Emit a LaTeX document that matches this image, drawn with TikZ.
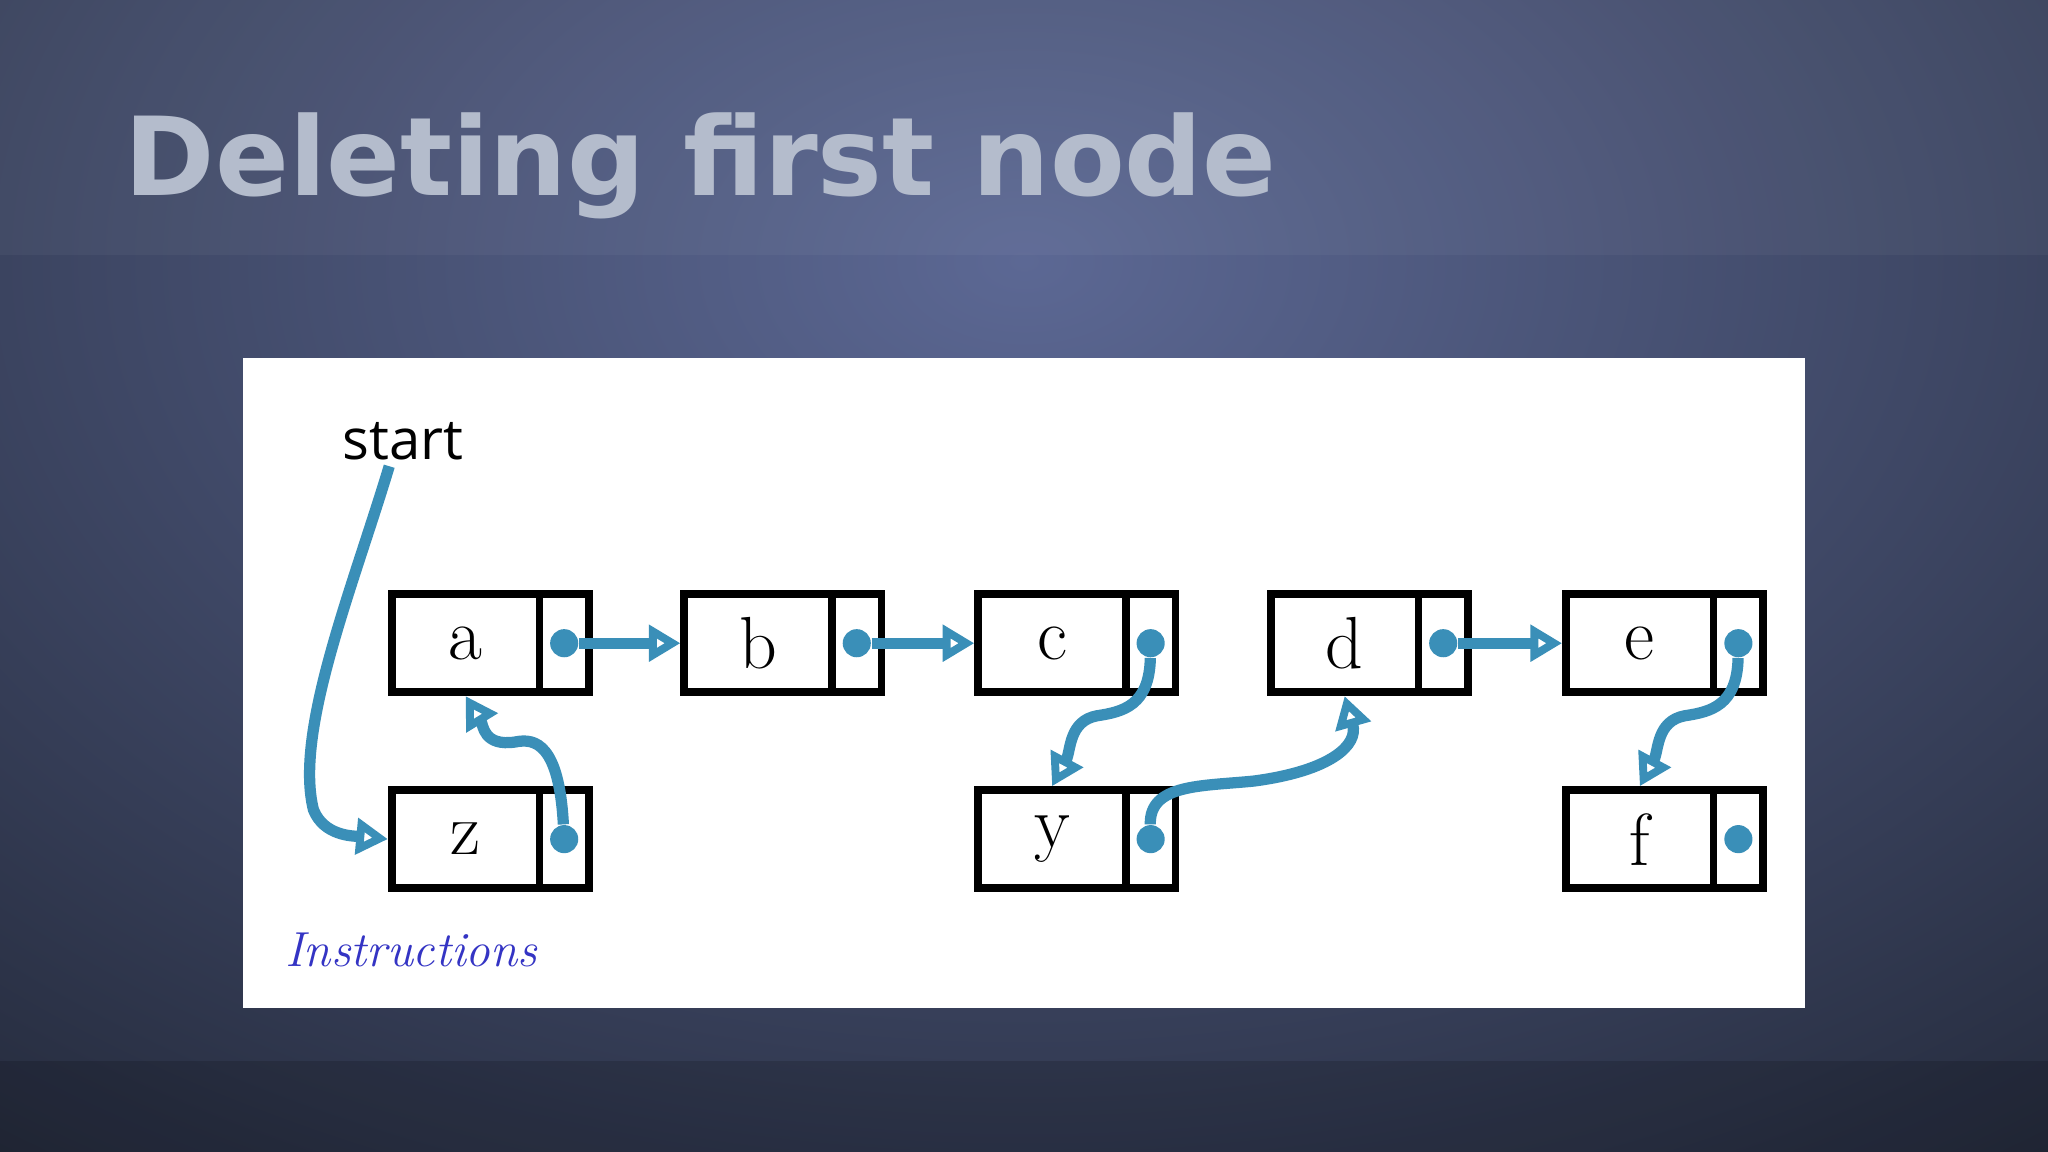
\documentclass[tikz,border=0pt]{standalone}
\usepackage{fontspec}
\newfontfamily\titlefont{DejaVu Sans}
\newfontfamily\startfont{Open Sans}
\usetikzlibrary{arrows.meta}
\definecolor{ptr}{HTML}{3A8FB8}
\definecolor{ttl}{HTML}{B4BCCC}
\definecolor{bgin}{HTML}{5C6894}
\definecolor{bgout}{HTML}{222838}
\definecolor{ins}{HTML}{3434C4}
\tikzset{
  cell/.style={draw=black,line width=2.2pt,minimum width=113*0.013061cm,minimum height=75*0.013061cm,inner sep=0,font=\fontsize{21}{21}\selectfont},
  ptrcell/.style={draw=black,line width=2.2pt,minimum width=38*0.013061cm,minimum height=75*0.013061cm,inner sep=0},
  link/.style={ptr,line width=3.2pt,-{Stealth[length=9pt,width=10pt,inset=0pt,open]}},
  dotc/.style={circle,fill=ptr,inner sep=0,minimum size=8pt},
}
\begin{document}
\begin{tikzpicture}[x=0.013061cm,y=-0.013061cm]
\useasboundingbox (0,0) rectangle (1568,882);
\shade[inner color=bgin,outer color=bgout] (-600,-700) rectangle (2168,1100);
\fill[white,opacity=0.04] (0,0) rectangle (1568,195);
\fill[black,opacity=0.15] (0,812) rectangle (1568,882);
\node[anchor=base west,inner sep=0,text=ttl,font=\titlefont\bfseries\fontsize{31}{31}\selectfont] (title) at (95,150) {Deleting first node};
\fill[white] (186,274) rectangle (1382,772);
% nodes
\foreach \n/\t/\x/\y in {a/a/297/452,b/b/521/452,c/c/746/452,d/d/970/452,e/e/1196/452,z/z/297/602,y/y/746/602,f/f/1196/602}{
  \node[cell,anchor=north west] (\n) at (\x,\y) {\t};
  \node[ptrcell,anchor=north west] (\n p) at (\x+113,\y) {};
  \node[dotc] (\n d) at (\n p.center) {};
}
\node[anchor=base west,inner sep=0,font=\startfont\fontsize{16}{16}\selectfont] (start) at (262,352) {start};
\node[anchor=base west,inner sep=0,text=ins,font=\itshape\fontsize{14}{14}\selectfont] (instr) at (218,740) {Instructions};
% links
\draw[link] (start.south-|298,0) ++(0,4) coordinate (s0) (s0) .. controls (270,450) and (225,560) .. (240,620) .. controls (248,640) and (270,640) .. (z.west);
\draw[link] (ad) -- (b.west);
\draw[link] (bd) -- (c.west);
\draw[link] (dd) -- (e.west);
\draw[link] (zd) .. controls (428,570) and (410,565) .. (395,568) .. controls (370,572) and (370,555) .. (a.south);
\draw[link] (cd) .. controls (880,540) and (860,545) .. (840,548) .. controls (818,552) and (820,575) .. (y.north);
\draw[link] (ed) .. controls (1330,540) and (1310,545) .. (1290,548) .. controls (1268,552) and (1270,575) .. (f.north);
\draw[link] (yd) .. controls (880,600) and (920,602) .. (960,598) .. controls (1020,590) and (1040,570) .. (d.south);
\end{tikzpicture}
\end{document}
